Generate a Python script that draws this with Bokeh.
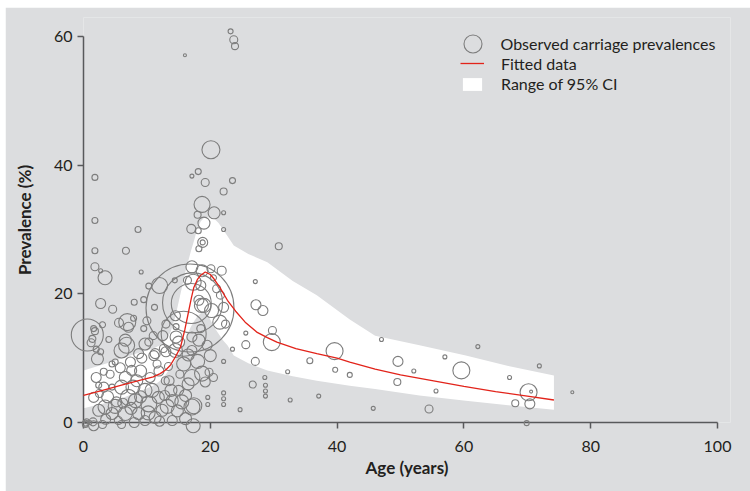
from bokeh.plotting import figure
from bokeh.models import Range1d, Legend, LegendItem, FixedTicker, ColumnDataSource
from bokeh.embed import file_html
from bokeh.resources import INLINE
import numpy as np

# ---------------- data ----------------
ages = [23.2, 23.7, 23.9, 16.0, 20.1, 1.8, 17.1, 18.1, 19.2, 23.5, 22.1, 18.7, 20.6, 22.1, 1.8, 8.6,
        17.0, 18.0, 19.0, 18.1, 22.1, 18.8, 18.8, 30.8, 1.8, 6.7, 18.2, 1.8, 2.7, 3.4, 9.1, 10.3,
        12.0, 14.4, 16.4, 17.1, 18.7, 20.1, 21.8, 27.1, 2.7, 4.6, 8.0, 9.5, 11.2, 16.8, 17.2, 17.0,
        15.8, 19.0, 0.6, 1.8, 1.4, 2.2, 2.7, 3.2, 5.0, 5.6, 6.9, 6.8, 6.6, 7.9, 9.5, 10.3,
        11.1, 13.0, 14.6, 14.6, 17.1, 18.5, 21.5, 22.1, 21.6, 20.2, 18.6, 18.5, 17.3, 27.2, 28.3, 25.6,
        29.8, 29.7, 25.6, 23.5, 22.1, 27.1, 26.7, 28.6, 28.7, 28.7, 28.7, 32.6, 37.1, 32.2, 35.7, 39.6,
        39.7, 42.0, 45.7, 24.7, 22.1, 22.1, 22.1, 19.6, 19.6, 20.0, 19.8, 19.2, 17.1, 17.3, 47.0, 49.6,
        49.5, 52.1, 55.6, 54.5, 57.0, 59.6, 62.2, 67.2, 71.9, 70.2, 70.6, 68.1, 70.4, 69.9, 77.1, 7.1,
        1.6, 4.5, 6.0, 2.4, 3.2, 4.5, 1.6, 2.4, 3.4, 4.5, 0.3, 1.6, 6.0, 6.6, 7.6, 7.1,
        8.2, 9.7, 10.3, 11.8, 12.4, 8.7, 6.6, 5.5, 9.7, 11.3, 7.4, 8.7, 9.7, 11.3, 11.6, 8.4,
        10.5, 12.9, 18.7, 17.1, 15.8, 14.5, 16.1, 17.4, 16.1, 14.0, 14.0, 13.5, 18.2, 17.1, 18.2, 22.4,
        14.5, 0.5, 1.0, 3.0, 12.8, 15.0, 13.4, 15.2, 10.0, 12.5, 4.0, 3.0, 20.5, 21.0, 12.6, 5.2,
        2.5, 1.2, 2.0, 0.3, 1.5,
        2.0, 3.8, 5.0, 6.2, 7.8, 9.0, 9.0, 10.8, 11.9, 13.2, 14.8, 15.5, 16.5, 12.0, 8.0, 6.0,
        3.5, 10.2, 7.5, 13.8, 4.2, 5.8, 15.0, 13.0, 9.2, 11.0, 16.5, 18.0, 19.5, 20.5]
prevalence = [60.8, 59.5, 58.5, 57.1, 42.4, 38.1, 38.3, 39.0, 37.3, 37.6, 35.9, 33.9, 32.6, 32.6, 31.4, 30.0,
              30.1, 32.3, 31.0, 29.8, 30.0, 28.0, 28.0, 27.4, 26.7, 26.7, 27.0, 24.2, 23.6, 22.5, 23.4, 21.2,
              21.3, 22.1, 22.1, 24.2, 23.6, 23.9, 23.6, 21.9, 18.5, 17.6, 18.7, 19.1, 17.9, 17.8, 18.6, 18.5,
              13.8, 18.2, 13.6, 14.2, 13.0, 9.9, 11.0, 7.9, 9.4, 15.5, 15.6, 12.0, 12.8, 16.2, 14.6, 12.5,
              10.4, 15.3, 14.9, 13.3, 13.3, 14.6, 15.6, 17.9, 19.8, 17.4, 18.2, 21.3, 21.8, 18.3, 17.4, 13.9,
              14.3, 12.5, 12.1, 11.4, 9.5, 9.5, 5.9, 7.0, 5.8, 4.9, 4.1, 3.5, 4.1, 7.9, 9.6, 11.1,
              8.2, 7.4, 2.2, 2.0, 4.6, 3.7, 2.8, 3.9, 2.8, 10.4, 7.8, 6.3, 2.4, -0.5, 12.9, 9.5,
              6.3, 8.0, 4.9, 2.1, 10.2, 8.1, 11.8, 7.0, 8.8, 4.7, 4.8, 3.0, 2.9, -0.1, 4.7, 14.8,
              14.6, 9.1, 11.2, 5.8, 5.5, 5.5, 3.9, 1.9, 2.4, 1.4, -0.1, -0.5, 5.5, 7.0, 8.1, 3.9,
              3.4, 5.0, 2.9, 3.9, 1.9, 1.4, 1.4, 0.3, 0.3, 0.8, 9.4, 10.7, 12.2, 10.7, 9.1, 6.5,
              7.0, 6.5, 7.6, 7.0, 9.1, 11.2, 4.2, 2.6, 0.6, 3.4, 0.3, 6.5, 12.8, 11.2, 19.0, 15.3,
              16.6, 0.2, 0.0, -0.3, 4.2, 5.0, 8.7, 7.5, 15.8, 13.5, 12.9, 15.2, 22.5, 20.8, 11.5, 3.2,
              4.5, 12.4, 11.4, -0.3, 0.1,
              7.0, 4.0, 2.5, 3.0, 5.5, 4.0, 8.0, 5.0, 8.0, 2.5, 1.8, 3.2, 6.0, 0.2, 0.0, -0.3,
              0.5, 1.5, 2.2, 5.0, 7.5, 8.5, 12.5, 11.0, 10.0, 13.5, 10.5, 9.5, 12.0, 7.0]
# number of people sampled in each study (drives bubble area)
sampled = [100, 256, 196, 36, 1296, 144, 64, 144, 256, 144, 196, 1024, 576, 64, 144, 144,
           324, 196, 576, 144, 64, 400, 100, 196, 144, 196, 144, 256, 64, 784, 64, 144,
           1024, 100, 256, 576, 576, 256, 324, 64, 400, 256, 144, 144, 144, 30976, 14400, 6400,
           8100, 784, 4096, 196, 196, 576, 144, 196, 144, 324, 1156, 1024, 576, 144, 144, 256,
           400, 256, 144, 576, 400, 256, 784, 400, 256, 784, 784, 400, 1024, 400, 400, 64,
           256, 1156, 256, 64, 64, 256, 196, 64, 64, 64, 64, 64, 64, 64, 144, 1156,
           100, 100, 64, 64, 64, 64, 64, 64, 64, 576, 256, 400, 1024, 784, 64, 400,
           196, 64, 64, 256, 64, 1156, 64, 64, 64, 1156, 36, 196, 400, 100, 36, 400,
           144, 144, 900, 144, 400, 144, 400, 576, 784, 576, 144, 400, 784, 576, 400, 1024,
           784, 784, 1024, 576, 576, 576, 784, 256, 400, 576, 400, 400, 576, 400, 256, 576,
           400, 256, 900, 1024, 784, 784, 576, 1024, 576, 576, 400, 400, 576, 400, 400, 256,
           400, 100, 64, 256, 400, 400, 256, 256, 256, 400, 144, 144, 144, 256, 256, 400,
           256, 256, 144, 144, 256,
           400, 576, 784, 400, 784, 576, 576, 784, 400, 784, 576, 784, 576, 400, 400, 256,
           400, 784, 576, 576, 256, 400, 576, 400, 400, 256, 576, 784, 400, 256]

fit_age = [0, 3, 6, 9, 11, 12.1, 13, 13.7, 14.5, 15.3, 16, 16.4, 17, 17.4, 18, 18.5, 19.2, 20,
           20.6, 21.5, 22.7, 24, 25.5, 27.4, 29, 30.5, 33.5, 36.8, 40, 42, 46, 50, 55, 60, 65, 70, 74.2]
fit_prev = [4.2, 5.0, 5.8, 6.6, 7.1, 7.6, 8.2, 8.9, 10.2, 11.7, 14.5, 16.4, 19.3, 21.0, 22.3, 22.9, 23.4, 23.0,
            22.3, 21.0, 19.0, 17.3, 15.6, 14.0, 13.2, 12.5, 11.5, 10.7, 10.0, 9.4, 8.3, 7.4, 6.5, 5.6, 4.8, 4.1, 3.5]

ci_age = [0, 5, 8, 11, 12.1, 13, 13.7, 14.5, 15.3, 16.1, 16.9, 17.5, 17.9, 18.5, 19.0, 19.5, 20.5,
          21.3, 22, 22.7, 23.7, 26, 29, 33, 36.8, 42, 46, 53, 60.3, 67, 74.2]
ci_upper = [8.1, 9.6, 10.6, 11.5, 12.0, 12.8, 14.0, 16.5, 20.0, 23.5, 26.5, 28.5, 30.0, 31.3, 31.8, 31.9, 31.8,
            31.0, 30.0, 29.0, 27.5, 26.2, 24.9, 22.0, 19.8, 16.0, 13.5, 12.0, 10.4, 8.8, 7.3]
ci_lower = [2.2, 3.4, 4.5, 5.7, 6.5, 7.5, 8.5, 9.8, 11.2, 13.0, 14.8, 15.8, 16.4, 17.0, 17.2, 17.0, 15.0,
            13.8, 12.8, 12.0, 10.4, 9.2, 8.1, 7.2, 6.5, 5.7, 5.2, 4.2, 3.4, 2.7, 2.0]

x_ticks = [0, 20, 40, 60, 80, 100]
y_ticks = [0, 20, 40, 60]

# ---------------- styling ----------------
BG = "#dcdddf"
FONT = "Lato"
TXT = "#231f20"
AXIS = "#58595b"

OFF_X, OFF_Y = 5, 7          # figure offset inside the page
W, H = 745, 484
MB_LEFT, MB_BOTTOM, MB_TOP, MB_RIGHT = 78, 69, 10, 20
XPX = 6.34
YPX = 6.433
x_end = (W - MB_LEFT - MB_RIGHT) / XPX
y_end = (H - MB_BOTTOM - MB_TOP) / YPX

p = figure(width=W, height=H, output_backend="svg", toolbar_location=None,
           x_range=Range1d(0, x_end), y_range=Range1d(0, y_end),
           background_fill_color=BG, border_fill_color=BG, outline_line_color=None,
           min_border_left=MB_LEFT, min_border_right=MB_RIGHT, min_border_top=MB_TOP,
           min_border_bottom=MB_BOTTOM, margin=(OFF_Y, 0, 0, OFF_X),
           x_axis_label="Age (years)", y_axis_label="Prevalence (%)")
p.grid.visible = False

band = p.varea(x=ci_age, y1=ci_lower, y2=ci_upper, fill_color="white", fill_alpha=1.0)

src = ColumnDataSource(dict(x=ages, y=prevalence, s=list(np.sqrt(np.array(sampled)) / 2.0)))
dots = p.scatter("x", "y", size="s", source=src, marker="circle", fill_alpha=0,
                 line_color="#7d7d7d", line_width=1.1, level="overlay")

fit = p.line(fit_age, fit_prev, line_color="#e2231a", line_width=1.3, level="overlay")

for ax, ticks, bnds in ((p.xaxis, x_ticks, (0, 100)), (p.yaxis, y_ticks, (0, 60))):
    ax.bounds = bnds
    ax.ticker = FixedTicker(ticks=ticks)
    ax.minor_tick_line_color = None
    ax.major_tick_in = 0
    ax.major_tick_out = 6
    ax.axis_line_color = AXIS
    ax.axis_line_width = 1.5
    ax.major_tick_line_color = AXIS
    ax.major_tick_line_width = 1.5
    ax.major_label_text_font = FONT
    ax.major_label_text_font_size = "16px"
    ax.major_label_text_color = TXT
    ax.axis_label_text_font = FONT
    ax.axis_label_text_font_size = "17px"
    ax.axis_label_text_font_style = "bold"
    ax.axis_label_text_color = TXT
p.xaxis.major_label_standoff = 12
p.xaxis.axis_label_standoff = 2
p.yaxis.major_label_standoff = 5
p.yaxis.axis_label_standoff = 16

frame_left_px = OFF_X + MB_LEFT
frame_bottom_px = OFF_Y + H - MB_BOTTOM

def add_legend(item, glyph_w, glyph_h, left_px, top_px, standoff):
    lg = Legend(items=[item], location=(left_px - frame_left_px, frame_bottom_px - (top_px + glyph_h)),
                glyph_width=glyph_w, glyph_height=glyph_h, label_standoff=standoff,
                padding=0, margin=0, spacing=0, border_line_color=None,
                background_fill_alpha=0, label_text_font=FONT, label_text_font_size="16px",
                label_text_color=TXT, label_height=glyph_h)
    p.add_layout(lg, "center")

add_legend(LegendItem(label="Observed carriage prevalences", renderers=[dots]), 45, 45, 449.5, 20.5, 6)
add_legend(LegendItem(label="Fitted data", renderers=[fit]), 24, 20, 460, 53, 17)
add_legend(LegendItem(label="Range of 95% CI", renderers=[band]), 24, 16, 460, 77, 17)

open("out.html", "w").write(file_html(p, INLINE))
